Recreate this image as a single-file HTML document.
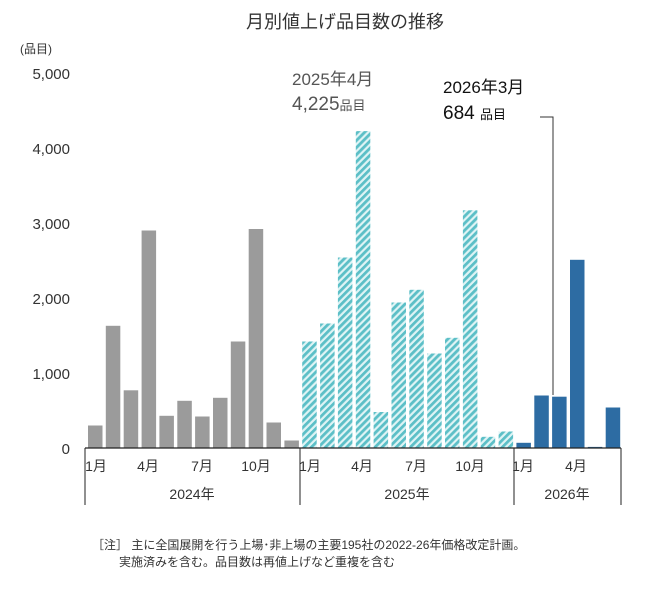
<!DOCTYPE html>
<html><head><meta charset="utf-8"><style>
body{margin:0;background:#fff;}
text{font-family:"Liberation Sans","Noto Sans CJK JP",sans-serif;fill:#333;}
</style></head><body>
<svg width="650" height="590" viewBox="0 0 650 590" xmlns="http://www.w3.org/2000/svg">
<defs>
<pattern id="h" patternUnits="userSpaceOnUse" width="5" height="5" patternTransform="rotate(45)">
<rect width="5" height="5" fill="#dff4f5"/>
<rect width="2.8" height="5" fill="#5cbfc7"/>
</pattern>
</defs>
<text x="345" y="28" font-size="18" text-anchor="middle">月別値上げ品目数の推移</text>
<text x="20" y="53" font-size="12">(品目)</text>
<g font-size="15" text-anchor="end">
<text x="70" y="79">5,000</text>
<text x="70" y="154">4,000</text>
<text x="70" y="229">3,000</text>
<text x="70" y="304">2,000</text>
<text x="70" y="379">1,000</text>
<text x="70" y="454">0</text>
</g>
<g id="bars"></g>
<line x1="85" y1="448" x2="621" y2="448" stroke="#222" stroke-width="1.2"/>
<g stroke="#222" stroke-width="1">
<line x1="85" y1="448" x2="85" y2="505"/>
<line x1="300" y1="448" x2="300" y2="505"/>
<line x1="514" y1="448" x2="514" y2="505"/>
<line x1="621" y1="448" x2="621" y2="505"/>
</g>
<g font-size="14" text-anchor="middle">
<text x="96" y="471">1月</text><text x="148" y="471">4月</text><text x="202" y="471">7月</text><text x="256" y="471">10月</text>
<text x="310" y="471">1月</text><text x="362" y="471">4月</text><text x="416" y="471">7月</text><text x="470" y="471">10月</text>
<text x="523" y="471">1月</text><text x="576" y="471">4月</text>
<text x="192" y="499">2024年</text><text x="407" y="499">2025年</text><text x="567" y="499">2026年</text>
</g>
<text x="292" y="85" font-size="17" style="fill:#555">2025年4月</text>
<text x="292" y="110" font-size="19" style="fill:#555">4,225<tspan font-size="13">品目</tspan></text>
<text x="443" y="93" font-size="17" style="fill:#111">2026年3月</text>
<text x="443" y="119" font-size="19" style="fill:#111">684 <tspan font-size="13">品目</tspan></text>
<polyline points="540,117 553,117 553,395" fill="none" stroke="#333" stroke-width="1"/>
<text x="92" y="549" font-size="12">［注］ 主に全国展開を行う上場･非上場の主要195社の2022-26年価格改定計画。</text>
<text x="119" y="566" font-size="12">実施済みを含む。品目数は再値上げなど重複を含む</text>
</svg>
<script>
var v=[300,1630,770,2900,430,630,420,670,1420,2920,340,100,1420,1660,2540,4225,480,1940,2110,1260,1470,3170,150,220,70,700,684,2510,15,540];
var g=document.getElementById('bars'),s='';
for(var i=0;i<v.length;i++){var x=88+i*17.85,h=v[i]*0.075,f=i<12?'#9b9b9b':(i<24?'url(#h)':'#2d6ca3');
s+='<rect x="'+x.toFixed(1)+'" y="'+(448-h).toFixed(1)+'" width="14.5" height="'+h.toFixed(1)+'" fill="'+f+'"/>';}
g.innerHTML=s;
</script>
</body></html>
